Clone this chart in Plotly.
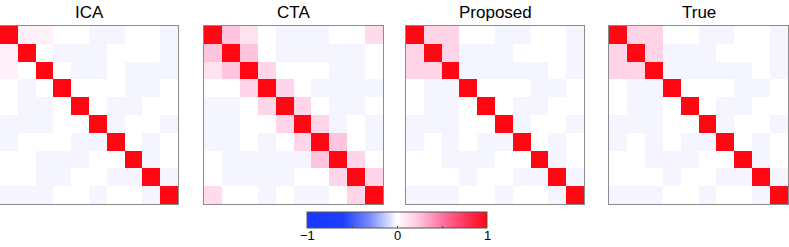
import plotly.graph_objects as go

# correlation-like matrices (10x10)
P = 0.18   # pink (positive small)
L = 0.06   # light pink
B = -0.025 # faint blue

titles = ["ICA", "CTA", "Proposed", "True"]

ica = [
    [1, L, L, 0, 0, B, B, 0, 0, B],
    [L, 1, 0, B, B, B, 0, 0, 0, B],
    [L, 0, 1, 0, B, B, 0, B, B, B],
    [0, B, 0, 1, 0, 0, 0, B, B, 0],
    [0, B, B, 0, 1, 0, B, B, 0, 0],
    [B, B, B, 0, 0, 1, B, 0, 0, B],
    [B, 0, 0, 0, B, B, 1, 0, B, 0],
    [0, 0, B, B, B, 0, 0, 1, B, 0],
    [0, 0, B, B, 0, 0, B, B, 1, B],
    [B, B, B, 0, 0, B, 0, 0, B, 1],
]

cta = [
    [1, .24, .12, 0, B, B, B, 0, 0, .15],
    [.24, 1, .25, 0, B, B, B, B, B, 0],
    [.12, .25, 1, .17, 0, 0, 0, B, B, 0],
    [0, 0, .17, 1, .17, 0, B, B, B, B],
    [B, B, 0, .17, 1, .17, 0, B, B, 0],
    [B, B, 0, 0, .17, 1, .17, B, 0, B],
    [B, B, 0, B, 0, .17, 1, .24, 0, B],
    [0, B, B, B, B, B, .24, 1, .17, 0],
    [0, B, B, B, B, 0, 0, .17, 1, .17],
    [.15, 0, 0, B, 0, B, B, 0, .17, 1],
]

proposed = [
    [1, P, P, 0, 0, B, B, 0, 0, B],
    [P, 1, P, B, B, B, 0, 0, 0, B],
    [P, P, 1, B, B, B, B, B, 0, B],
    [0, B, B, 1, 0, 0, 0, B, B, 0],
    [0, B, B, 0, 1, 0, B, B, 0, 0],
    [B, B, B, 0, 0, 1, B, 0, 0, B],
    [B, 0, B, 0, B, B, 1, 0, B, 0],
    [0, 0, B, B, B, 0, 0, 1, B, 0],
    [0, 0, 0, B, 0, 0, B, B, 1, B],
    [B, B, B, 0, 0, B, 0, 0, B, 1],
]

true = [
    [1, P, P, 0, 0, B, B, 0, 0, B],
    [P, 1, P, B, B, B, 0, 0, 0, B],
    [P, P, 1, B, B, B, B, B, 0, B],
    [0, B, B, 1, 0, 0, 0, B, B, 0],
    [0, B, B, 0, 1, 0, B, B, 0, 0],
    [B, B, B, 0, 0, 1, B, 0, 0, B],
    [B, 0, B, 0, B, B, 1, 0, B, 0],
    [0, 0, B, B, B, 0, 0, 1, B, 0],
    [0, 0, 0, B, 0, 0, B, B, 1, B],
    [B, B, B, 0, 0, B, 0, 0, B, 1],
]

matrices = [ica, cta, proposed, true]
cbar_ticks = [-1, -0.5, 0, 0.5, 1]
cbar_labels = {-1: "\u22121", 0: "0", 1: "1"}

W, H = 789, 247
xdom_px = [(0, 178), (204, 383), (406, 584), (609, 788)]
ytop_px, ybot_px = 26, 204
cb_left, cb_right, cb_top, cb_bot = 307, 487, 212, 228

FONT = "Liberation Sans Narrow, Arial Narrow, Liberation Sans, Arial"

colorscale = [
    [0.0, "rgb(25,55,255)"],
    [0.2, "rgb(30,62,255)"],
    [0.35, "rgb(120,140,255)"],
    [0.5, "rgb(255,255,255)"],
    [0.625, "rgb(255,195,222)"],
    [0.75, "rgb(255,115,160)"],
    [0.875, "rgb(255,55,95)"],
    [1.0, "rgb(255,8,20)"],
]

fig = go.Figure()
for i, (m, t) in enumerate(zip(matrices, titles)):
    xa = "x" if i == 0 else f"x{i+1}"
    ya = "y" if i == 0 else f"y{i+1}"
    fig.add_trace(go.Heatmap(
        z=m, xaxis=xa, yaxis=ya, zmin=-1, zmax=1, colorscale=colorscale,
        showscale=(i == 0), hoverinfo="skip",
        colorbar=dict(
            orientation="h", x=(cb_left + cb_right) / 2 / W, xanchor="center",
            y=(H - cb_top) / H, yanchor="top",
            lenmode="pixels", len=cb_right - cb_left,
            thicknessmode="pixels", thickness=cb_bot - cb_top,
            xpad=0, ypad=0,
            outlinewidth=1, outlinecolor="#555555",
            tickmode="array", tickvals=cbar_ticks, showticklabels=False,
            ticks="inside", ticklen=2, tickcolor="#444444",
        ),
    ))
    x0, x1 = xdom_px[i]
    fig.layout[("xaxis" if i == 0 else f"xaxis{i+1}")] = dict(
        domain=[x0 / W, x1 / W], showticklabels=False, ticks="", showgrid=False,
        zeroline=False, showline=True, mirror=True, linecolor="#8c8c8c", linewidth=1,
        range=[-0.5, 9.5], anchor=ya,
    )
    fig.layout[("yaxis" if i == 0 else f"yaxis{i+1}")] = dict(
        domain=[(H - ybot_px) / H, (H - ytop_px) / H], showticklabels=False, ticks="",
        showgrid=False, zeroline=False, showline=True, mirror=True,
        linecolor="#8c8c8c", linewidth=1, range=[9.5, -0.5], anchor=xa,
    )
    fig.add_annotation(
        text=t, x=(x0 + x1) / 2 / W, y=1 - 12.5 / H, xref="paper", yref="paper",
        xanchor="center", yanchor="middle", showarrow=False,
        font=dict(family=FONT, size=17, color="black"),
    )

# colorbar tick labels, placed at the colorbar's value positions
for v, lab in cbar_labels.items():
    px = cb_left + (v + 1) / 2 * (cb_right - cb_left)
    fig.add_annotation(
        text=lab, x=px / W, y=1 - 235.5 / H, xref="paper", yref="paper",
        xanchor="center", yanchor="middle", showarrow=False,
        font=dict(family=FONT, size=13, color="black"),
    )

fig.update_layout(
    width=W, height=H, margin=dict(l=0, r=0, t=0, b=0, autoexpand=False),
    paper_bgcolor="white", plot_bgcolor="white",
)
fig.write_html(
    "out.html",
    config={"displayModeBar": False},
    post_script="document.body.style.margin='0';document.body.style.overflow='hidden';",
)
